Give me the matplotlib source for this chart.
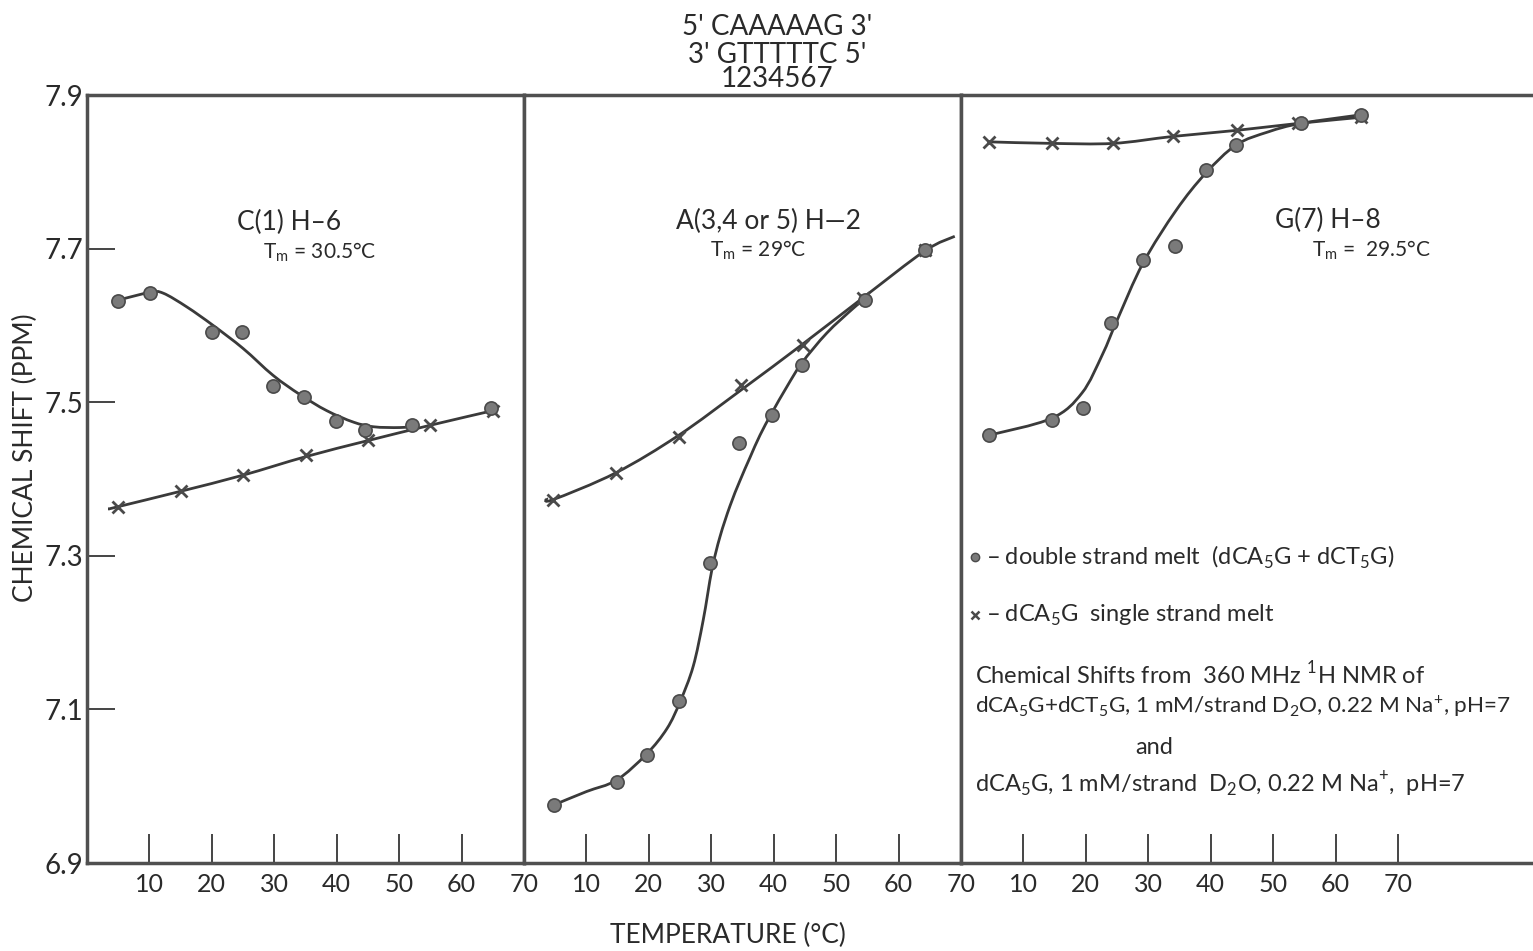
import numpy as np
import matplotlib
matplotlib.use('Agg')
from matplotlib import pyplot as plt
from matplotlib.path import Path
from matplotlib.patches import PathPatch

plt.rcParams['font.family'] = ['Lato', 'DejaVu Sans']

# C(1) H-6 panel
left_ds_t = [5.0, 10.1, 20.0, 24.9, 29.8, 34.8, 39.9, 44.6, 52.1, 64.7]
left_ds_y = [7.632, 7.642, 7.591, 7.592, 7.521, 7.507, 7.475, 7.464, 7.470, 7.493]
left_ss_t = [5, 15, 25, 35, 45, 55, 65]
left_ss_y = [7.364, 7.384, 7.405, 7.431, 7.451, 7.470, 7.489]
left_fit_t = [5.0, 10.1, 12.2, 16.0, 20.2, 25.0, 29.8, 34.1, 38.4, 42.7, 45.9, 50.1, 52.8]
left_fit_y = [7.633, 7.643, 7.642, 7.624, 7.600, 7.570, 7.535, 7.510, 7.489, 7.474, 7.468, 7.467, 7.469]
left_ssfit_t = [3.5, 5, 15, 25, 35, 45, 55, 65]
left_ssfit_y = [7.361, 7.364, 7.384, 7.405, 7.429, 7.450, 7.470, 7.489]

# A(3,4 or 5) H-2 panel
mid_ds_t = [4.8, 14.9, 19.7, 24.8, 29.8, 34.4, 39.7, 44.5, 54.6, 64.2]
mid_ds_y = [6.976, 7.005, 7.041, 7.111, 7.291, 7.447, 7.483, 7.548, 7.633, 7.698]
mid_ss_t = [4.6, 14.7, 24.8, 34.8, 44.7, 54.3, 64.2]
mid_ss_y = [7.373, 7.408, 7.455, 7.522, 7.574, 7.636, 7.698]
mid_fit_t = [4.9, 10.0, 14.85, 19.65, 22.9, 25.0, 27.1, 28.7, 30.1, 31.4, 33.0, 34.6,
             36.2, 37.8, 39.7, 42.1, 44.5, 48.5, 52.7, 54.6]
mid_fit_y = [6.976, 6.993, 7.008, 7.042, 7.075, 7.110, 7.156, 7.216, 7.282, 7.325, 7.365, 7.398,
             7.428, 7.457, 7.486, 7.520, 7.551, 7.590, 7.622, 7.635]
mid_ssfit_t = [3.6, 4.6, 14.7, 24.8, 34.8, 44.7, 54.3, 64.2, 69.0]
mid_ssfit_y = [7.375, 7.373, 7.408, 7.457, 7.516, 7.576, 7.636, 7.697, 7.716]

# G(7) H-8 panel
right_ds_t = [4.5, 14.5, 19.5, 24.1, 29.1, 34.3, 39.2, 44.1, 54.4, 64.0]
right_ds_y = [7.457, 7.477, 7.492, 7.603, 7.685, 7.703, 7.802, 7.835, 7.863, 7.874]
right_ss_t = [4.5, 14.5, 24.4, 33.9, 44.2, 54.0, 64.1]
right_ss_y = [7.839, 7.837, 7.837, 7.846, 7.854, 7.863, 7.871]
right_fit_t = [4.49, 14.51, 19.38, 22.65, 25.02, 29.15, 34.47, 39.18, 44.08, 49.22, 54.41, 63.86]
right_fit_y = [7.457, 7.479, 7.512, 7.562, 7.607, 7.681, 7.750, 7.798, 7.835, 7.852, 7.863, 7.874]

xticks = [10, 20, 30, 40, 50, 60, 70]
yticks = [6.9, 7.1, 7.3, 7.5, 7.7, 7.9]

W, H = 1533, 951
fig = plt.figure(figsize=(W / 100, H / 100), dpi=100)

def fx(x):
    return x / W

def fy(y):
    return 1 - y / H

line_c = '#3a3a3a'
frame_c = '#505050'
text_c = '#2a2a2a'

def smooth_path(ax, xs, ys):
    # catmull-rom through the read points, drawn as cubic bezier segments in display space
    pts = ax.transData.transform(np.column_stack([xs, ys]))
    verts = [pts[0]]
    codes = [Path.MOVETO]
    n = len(pts)
    for k in range(n - 1):
        p0 = pts[k - 1] if k > 0 else pts[k]
        p1, p2 = pts[k], pts[k + 1]
        p3 = pts[k + 2] if k + 2 < n else pts[k + 1]
        verts += [p1 + (p2 - p0) / 6, p2 - (p3 - p1) / 6, p2]
        codes += [Path.CURVE4] * 3
    verts = ax.transData.inverted().transform(np.array(verts))
    ax.add_patch(PathPatch(Path(verts, codes), fill=False, ec=line_c, lw=2))

bottom = 88 / H
height = 768 / H
panels = [
    (87, 437, 70),
    (524, 437, 70),
    (961, 572, 572 / 6.243),
]
data = [
    (left_ds_t, left_ds_y, left_ss_t, left_ss_y, left_fit_t, left_fit_y, left_ssfit_t, left_ssfit_y),
    (mid_ds_t, mid_ds_y, mid_ss_t, mid_ss_y, mid_fit_t, mid_fit_y, mid_ssfit_t, mid_ssfit_y),
    (right_ds_t, right_ds_y, right_ss_t, right_ss_y, right_fit_t, right_fit_y, right_ss_t, right_ss_y),
]

for i, ((x0, w, xmax), d) in enumerate(zip(panels, data)):
    ax = fig.add_axes([fx(x0), bottom, fx(w), height])
    ds_t, ds_y, ss_t, ss_y, fit_t, fit_y, ssf_t, ssf_y = d
    ax.set_xlim(0, xmax)
    ax.set_ylim(6.9, 7.9)
    smooth_path(ax, ssf_t, ssf_y)
    smooth_path(ax, fit_t, fit_y)
    ax.plot(ss_t, ss_y, 'x', ms=9, mew=2, color='#4a4a4a')
    ax.plot(ds_t, ds_y, 'o', ms=9.5, mfc='#7a7a7a', mec='#4a4a4a', mew=1.2)
    ax.set_xticks(xticks)
    ax.set_xticklabels([str(t) for t in xticks], fontsize=18)
    ax.tick_params(axis='x', direction='in', length=21, width=1.4, color='#444', pad=7)
    if i == 0:
        ax.set_yticks(yticks)
        ax.set_yticklabels([f'{t:.1f}' for t in yticks], fontsize=20)
        ax.tick_params(axis='y', direction='in', length=20, width=1.4, color='#444', pad=3)
    else:
        ax.set_yticks([])
    for s in ax.spines.values():
        s.set_color(frame_c)
        s.set_linewidth(2.5)
    if i == 2:
        ax.spines['right'].set_visible(False)
    for lab in ax.get_xticklabels() + ax.get_yticklabels():
        lab.set_color(text_c)

# sequence at top
for txt, y in [("5' CAAAAAG 3'", 27), ("3' GTTTTTC 5'", 55), ("1234567", 79)]:
    fig.text(fx(777), fy(y), txt, fontsize=20, ha='center', va='center', color=text_c)

# panel labels
labels = [
    ("C(1) H\u20136", 289, 222, "T$_\\mathregular{m}$ = 30.5\u00b0C", 320, 252),
    ("A(3,4 or 5) H\u20142", 768, 221, "T$_\\mathregular{m}$ = 29\u00b0C", 758, 250),
    ("G(7) H\u20138", 1328, 220, "T$_\\mathregular{m}$ =  29.5\u00b0C", 1371, 250),
]
for name, nx, ny, tm, tx, ty in labels:
    fig.text(fx(nx), fy(ny), name, fontsize=19, ha='center', va='center', color=text_c)
    fig.text(fx(tx), fy(ty), tm, fontsize=15, ha='center', va='center', color=text_c)

fig.text(fx(25), fy(458), 'CHEMICAL SHIFT (PPM)', fontsize=19, rotation=90,
         ha='center', va='center', color=text_c)
fig.text(fx(728), fy(935), 'TEMPERATURE (\u00b0C)', fontsize=19, ha='center', va='center', color=text_c)

# legend / notes in the right panel
fig.add_artist(plt.Line2D([fx(975)], [fy(557)], marker='o', ms=6, mfc='#7a7a7a', mec='#4a4a4a', ls=''))
fig.add_artist(plt.Line2D([fx(975)], [fy(615)], marker='x', ms=6, mew=1.8, color='#4a4a4a', ls=''))
notes = [
    ("\u2013 double strand melt  (dCA$_\\mathregular{5}$G + dCT$_\\mathregular{5}$G)", 987, 557, 'left', 17),
    ("\u2013 dCA$_\\mathregular{5}$G  single strand melt", 987, 615, 'left', 17),
    ("Chemical Shifts from  360 MHz $^\\mathregular{1}$H NMR of", 975, 674, 'left', 17),
    ("dCA$_\\mathregular{5}$G+dCT$_\\mathregular{5}$G, 1 mM/strand D$_\\mathregular{2}$O, 0.22 M Na$^\\mathregular{+}$, pH=7", 975, 706, 'left', 16.2),
    ("and", 1154, 747, 'center', 17),
    ("dCA$_\\mathregular{5}$G, 1 mM/strand  D$_\\mathregular{2}$O, 0.22 M Na$^\\mathregular{+}$,  pH=7", 975, 785, 'left', 17),
]
for txt, x, y, ha, fs in notes:
    fig.text(fx(x), fy(y), txt, fontsize=fs, ha=ha, va='center', color=text_c)

fig.savefig('out.png', dpi=100)
